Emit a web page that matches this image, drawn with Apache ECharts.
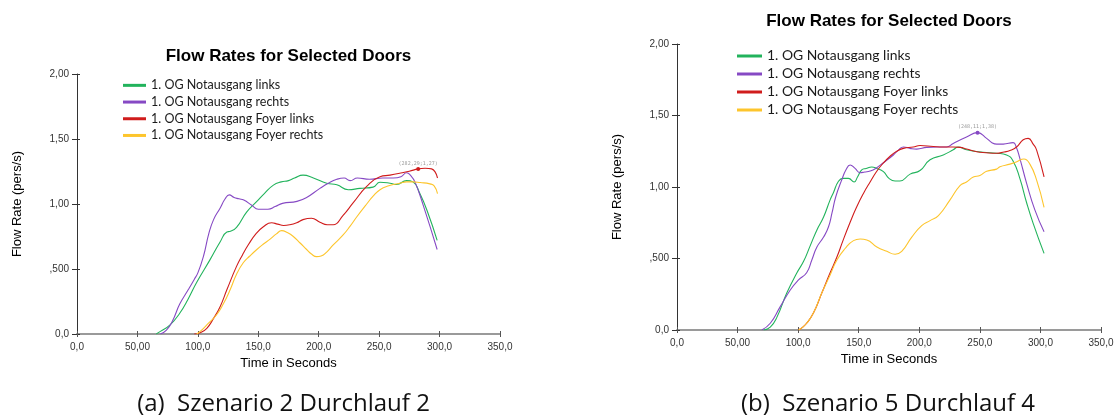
<!DOCTYPE html>
<html><head><meta charset="utf-8">
<script src="https://cdn.jsdelivr.net/npm/echarts@6/dist/echarts.min.js"></script>
<style>html,body{margin:0;padding:0;background:#fff}#c{width:1117px;height:419px}</style>
</head><body><div id="c"></div>
<script>
// ---- data ----
const chartTitle = 'Flow Rates for Selected Doors';
const seriesNames = ['1. OG Notausgang links','1. OG Notausgang rechts','1. OG Notausgang Foyer links','1. OG Notausgang Foyer rechts'];
const seriesColors = ['#22b35c','#8649c4','#d01c1c','#fdc52c'];
const captions = ['(a)  Szenario 2 Durchlauf 2','(b)  Szenario 5 Durchlauf 4'];
const xTickLabels = ['0,0','50,00','100,0','150,0','200,0','250,0','300,0','350,0'];
const yTickLabels = ['0,0',',500','1,00','1,50','2,00'];
const xAxisName = 'Time in Seconds';
const yAxisName = 'Flow Rate (pers/s)';

// Szenario 2 Durchlauf 2
const aLinks = [[65.6,0],[69,0.02],[77,0.07],[85,0.16],[92,0.27],[99.2,0.4],[110,0.57],[118.5,0.71],[124,0.785],[127,0.79],[132,0.82],[140.5,0.94],[148.8,1.02],[155,1.08],[162.5,1.145],[169,1.17],[175,1.18],[180,1.2],[187,1.222],[195.6,1.2],[206.6,1.16],[215,1.148],[224.5,1.11],[234,1.12],[245,1.13],[250.7,1.167],[259,1.16],[264.5,1.15],[272.7,1.18],[278,1.17],[283.7,1.08],[290,0.94],[298,0.72]];
const aRechts = [[69,0],[74,0.03],[79,0.1],[85,0.23],[92,0.34],[97,0.42],[100,0.47],[104.7,0.6],[109,0.77],[113,0.88],[118.5,0.97],[122.6,1.04],[126,1.07],[130,1.05],[134,1.04],[138,1.03],[144.6,0.99],[150,0.96],[158,0.96],[164,0.98],[170,1.005],[182,1.02],[190,1.05],[201,1.12],[208,1.16],[215,1.19],[221,1.2],[226,1.18],[232,1.2],[242,1.19],[253,1.2],[261.7,1.2],[268,1.21],[272.7,1.24],[276,1.22],[279.6,1.17],[286.5,0.99],[298,0.65]];
const aFoyerLinks = [[97,0],[102,0.01],[107.4,0.044],[113,0.12],[118.4,0.21],[124,0.34],[132,0.52],[137,0.61],[142,0.69],[148,0.77],[154.2,0.825],[161,0.856],[166,0.845],[171,0.835],[176,0.84],[181.8,0.856],[187,0.88],[194,0.89],[201,0.86],[207,0.84],[212,0.84],[220,0.91],[228.6,1.01],[239.7,1.135],[250.7,1.21],[259,1.222],[267,1.236],[275,1.252],[282.29,1.27],[288,1.275],[293.4,1.27],[298.3,1.2]];
const aFoyerRechts = [[99,0],[102,0.02],[107.4,0.07],[115.7,0.15],[121,0.23],[126.7,0.34],[132,0.46],[137.7,0.55],[143,0.6],[148.8,0.65],[154,0.69],[159.8,0.73],[165,0.77],[169.4,0.795],[174,0.78],[179,0.75],[184.6,0.7],[190,0.65],[194,0.615],[198.3,0.595],[202,0.6],[206.6,0.63],[212,0.685],[220,0.76],[226,0.83],[231.4,0.9],[239.7,1.0],[245,1.06],[250.7,1.11],[258,1.14],[267,1.16],[272.7,1.17],[278,1.17],[284,1.165],[292,1.155],[295.5,1.14],[298.3,1.08]];
const aPeak = [282.29, 1.27];

// Szenario 5 Durchlauf 4
const bLinks = [[71.5,0],[77,0.02],[82.5,0.09],[90.7,0.26],[99,0.4],[104.5,0.48],[110,0.59],[115.5,0.7],[121,0.79],[126.4,0.91],[129.1,0.96],[133.3,1.04],[137,1.06],[141.5,1.06],[146.2,1.035],[149,1.07],[152.5,1.12],[156,1.13],[160.8,1.14],[164.9,1.13],[170.4,1.107],[175,1.06],[180,1.042],[184,1.042],[192.4,1.09],[200.6,1.115],[208.9,1.19],[219.8,1.224],[228,1.26],[232.2,1.28],[239,1.26],[252.8,1.243],[263.8,1.236],[272.1,1.224],[277.5,1.18],[283,1.06],[288.6,0.89],[294,0.746],[303,0.536]];
const bRechts = [[70,0],[77,0.047],[85,0.16],[93.5,0.28],[100.3,0.35],[107,0.4],[111.3,0.49],[115.5,0.58],[121,0.65],[125,0.72],[128,0.82],[131,0.93],[136,1.05],[139.5,1.12],[142.9,1.154],[147,1.13],[151,1.1],[155,1.105],[159.4,1.112],[164,1.13],[170.4,1.17],[178.6,1.224],[183,1.26],[186.9,1.28],[192.4,1.27],[197.9,1.265],[206.1,1.277],[215,1.28],[222.6,1.28],[228,1.305],[239,1.35],[248.11,1.38],[255.6,1.34],[260,1.31],[264,1.3],[269.3,1.3],[277.5,1.31],[280,1.28],[283,1.2],[288.6,1.026],[295.4,0.84],[303,0.687]];
const bFoyerLinks = [[100.3,0],[103,0.015],[107,0.047],[112.7,0.12],[119.6,0.26],[126.4,0.4],[132,0.51],[137,0.625],[143,0.755],[148,0.855],[153.9,0.955],[159.4,1.035],[164.9,1.11],[170,1.165],[175.9,1.215],[181.4,1.25],[186.9,1.27],[195,1.28],[200.6,1.29],[211.6,1.283],[220,1.28],[228,1.28],[233.6,1.277],[239,1.266],[247.4,1.247],[255,1.24],[263.8,1.236],[270,1.245],[274.8,1.255],[280.3,1.28],[285.8,1.33],[289.9,1.34],[294,1.3],[296.8,1.26],[303,1.07]];
const bFoyerRechts = [[100.3,0],[103,0.015],[107,0.047],[112.7,0.12],[119.6,0.26],[126.4,0.385],[132,0.49],[138.8,0.57],[145.7,0.625],[151.2,0.636],[156.7,0.63],[165,0.58],[173.2,0.55],[180,0.53],[185.5,0.55],[193.8,0.65],[202,0.73],[208.9,0.765],[215.8,0.8],[225.4,0.91],[233.6,1.01],[239,1.035],[244.6,1.07],[250,1.08],[255.6,1.11],[263.8,1.125],[266.6,1.142],[274.8,1.16],[280,1.175],[286.4,1.196],[291.3,1.16],[296.8,1.05],[303,0.858]];
const bPeak = [248.11, 1.38];

// ---- chart ----
const fmtNum = v => v.toFixed(2).replace('.', ',');
const peakLabel = p => '(' + fmtNum(p[0]) + ';' + fmtNum(p[1]) + ')';
const arial = 'Liberation Sans, Arial, sans-serif';

const grids = [
  {left:77, top:74, width:423, height:260},
  {left:677, top:44, width:424, height:286}
];

function xAxesFor(gi){
  return [
    {type:'value', gridIndex:gi, min:0, max:350, interval:50, position:'bottom',
     name:xAxisName, nameLocation:'middle', nameGap:20,
     nameTextStyle:{fontFamily:arial, fontSize:13, color:'#000'},
     axisLine:{onZero:false, lineStyle:{color:'#9a9a9a', width:2}},
     axisTick:{length:3, lineStyle:{color:'#555', width:1}},
     axisLabel:{formatter:v => xTickLabels[Math.round(v/50)], fontFamily:arial, fontSize:10, color:'#333', margin:8},
     splitLine:{show:false}},
    {type:'value', gridIndex:gi, min:0, max:350, interval:50, position:'bottom',
     axisLine:{show:false, onZero:false},
     axisTick:{inside:true, length:3, lineStyle:{color:'#555', width:1}},
     axisLabel:{show:false}, splitLine:{show:false}}
  ];
}
function yAxesFor(gi){
  return [
    {type:'value', gridIndex:gi, min:0, max:2, interval:0.5, position:'left',
     name:yAxisName, nameLocation:'middle', nameGap:53,
     nameTextStyle:{fontFamily:arial, fontSize:13, color:'#000'},
     axisLine:{show:true, onZero:false, lineStyle:{color:'#333', width:1}},
     axisTick:{show:true, length:5, lineStyle:{color:'#333', width:1}},
     axisLabel:{formatter:v => yTickLabels[Math.round(v/0.5)], fontFamily:arial, fontSize:10, color:'#333', margin:8},
     splitLine:{show:false}},
    {type:'value', gridIndex:gi, min:0, max:2, interval:0.5, position:'left',
     axisLine:{show:false, onZero:false},
     axisTick:{show:true, inside:true, length:3, lineStyle:{color:'#333', width:1}},
     axisLabel:{show:false}, splitLine:{show:false}}
  ];
}

function mkSeries(gi, datas, peakIdx, peak){
  return datas.map((d, i) => {
    const s = {
      type:'line', name:seriesNames[i], xAxisIndex:gi*2, yAxisIndex:gi*2,
      data:d, smooth:0.5, showSymbol:false, symbol:'none',
      lineStyle:{width:1.1, color:seriesColors[i]}, itemStyle:{color:seriesColors[i]},
      emphasis:{disabled:true}, animation:false
    };
    if (i === peakIdx) {
      s.markPoint = {
        symbol:'circle', symbolSize:4, animation:false,
        itemStyle:{color:seriesColors[i]},
        label:{show:true, position:'top', distance:1, formatter:peakLabel(peak),
               fontFamily:'DejaVu Sans Mono, monospace', fontSize:5, color:'#999'},
        data:[{coord:peak}]
      };
    }
    return s;
  });
}

function legendFor(left, top, w, fs, lh){
  return {left:left, top:top, orient:'vertical', padding:0, itemGap:0,
          itemWidth:w, itemHeight:3, icon:'rect', selectedMode:false,
          data:seriesNames,
          textStyle:{fontFamily:'Lato, sans-serif', fontSize:fs, lineHeight:lh, color:'#1a1a1a'}};
}

const titleStyle = {fontFamily:arial, fontWeight:'bold', fontSize:17, color:'#000'};
const capStyle = {fontFamily:'Open Sans, sans-serif', fontWeight:'normal', fontSize:24, color:'#111'};

const option = {
  backgroundColor:'#fff',
  animation:false,
  title:[
    {text:chartTitle, left:288.5, top:47.5, textAlign:'center', padding:0, textStyle:titleStyle},
    {text:chartTitle, left:889, top:13, textAlign:'center', padding:0, textStyle:titleStyle},
    {text:captions[0], left:283.5, top:392.5, textAlign:'center', padding:0, textStyle:capStyle},
    {text:captions[1], left:888, top:392.5, textAlign:'center', padding:0, textStyle:capStyle}
  ],
  legend:[legendFor(123, 77, 23, 12.5, 16.7), legendFor(737, 47, 25, 13.9, 18)],
  grid:grids,
  xAxis:[...xAxesFor(0), ...xAxesFor(1)],
  yAxis:[...yAxesFor(0), ...yAxesFor(1)],
  series:[
    ...mkSeries(0, [aLinks, aRechts, aFoyerLinks, aFoyerRechts], 2, aPeak),
    ...mkSeries(1, [bLinks, bRechts, bFoyerLinks, bFoyerRechts], 1, bPeak)
  ]
};
const chart = echarts.init(document.getElementById('c'));
chart.setOption(option);
</script>
</body></html>
